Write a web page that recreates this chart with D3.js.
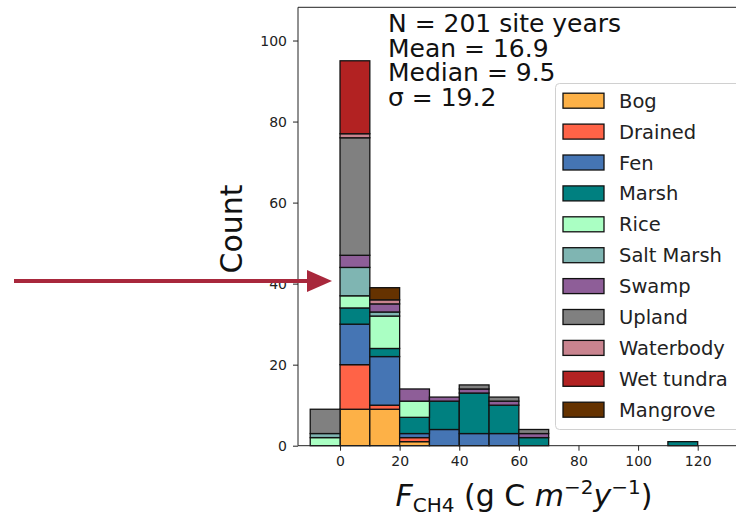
<!DOCTYPE html>
<html>
<head>
<meta charset="utf-8">
<script src="https://cdn.jsdelivr.net/npm/d3@7"></script>
<style>
  body { margin: 0; background: #fff; }
  svg { display: block; font-family: "DejaVu Sans", sans-serif; }
</style>
</head>
<body>
<div id="chart"></div>
<script>
// bin starts (width 10)
const binStarts = [-10, 0, 10, 20, 30, 40, 50, 60, 70, 80, 90, 100, 110];

const categories = ["Bog", "Drained", "Fen", "Marsh", "Rice", "Salt Marsh",
  "Swamp", "Upland", "Waterbody", "Wet tundra", "Mangrove"];

// counts per bin
const bog       = [0, 9, 9, 1, 0, 0, 0, 0, 0, 0, 0, 0, 0];
const drained   = [0, 11, 1, 1, 0, 0, 0, 0, 0, 0, 0, 0, 0];
const fen       = [0, 10, 12, 1, 4, 3, 3, 0, 0, 0, 0, 0, 0];
const marsh     = [0, 4, 2, 4, 7, 10, 7, 2, 0, 0, 0, 0, 1];
const rice      = [2, 3, 8, 4, 0, 0, 0, 0, 0, 0, 0, 0, 0];
const saltMarsh = [1, 7, 1, 0, 0, 0, 0, 0, 0, 0, 0, 0, 0];
const swamp     = [0, 3, 2, 3, 1, 1, 1, 1, 0, 0, 0, 0, 0];
const upland    = [6, 29, 0, 0, 0, 1, 1, 1, 0, 0, 0, 0, 0];
const waterbody = [0, 1, 1, 0, 0, 0, 0, 0, 0, 0, 0, 0, 0];
const wetTundra = [0, 18, 0, 0, 0, 0, 0, 0, 0, 0, 0, 0, 0];
const mangrove  = [0, 0, 3, 0, 0, 0, 0, 0, 0, 0, 0, 0, 0];

const xTicks = [0, 20, 40, 60, 80, 100, 120];
const yTicks = [0, 20, 40, 60, 80, 100];
const statLines = ["N = 201 site years", "Mean = 16.9", "Median = 9.5", "σ = 19.2"];

const colors = ["#fdb147", "#ff6347", "#4575b4", "#008080", "#aaffc3", "#7fb5b2",
  "#8e5e98", "#808080", "#c9848f", "#b22222", "#653200"];

const series = [bog, drained, fen, marsh, rice, saltMarsh, swamp, upland, waterbody, wetTundra, mangrove];
const table = binStarts.map((b, i) => {
  const row = { bin: b };
  categories.forEach((c, k) => row[c] = series[k][i]);
  return row;
});

const width = 736, height = 522;
const marginLeft = 298, marginTop = 7.3, marginBottom = 76.3;

const x = d3.scaleLinear().domain([-14.1, 140.9]).range([marginLeft, 760]);
const y = d3.scaleLinear().domain([0, 108.2]).range([height - marginBottom, marginTop]);
const color = d3.scaleOrdinal().domain(categories).range(colors);

const svg = d3.select("#chart").append("svg")
    .attr("width", width).attr("height", height)
    .attr("viewBox", [0, 0, width, height]);

svg.append("rect").attr("width", width).attr("height", height).attr("fill", "#fff");

// stacked bars
const stacked = d3.stack().keys(categories)(table);
svg.append("g")
    .attr("stroke", "#111")
    .attr("stroke-width", 1.3)
  .selectAll("g")
  .data(stacked)
  .join("g")
    .attr("fill", d => color(d.key))
  .selectAll("rect")
  .data(d => d.filter(s => s[1] > s[0]))
  .join("rect")
    .attr("x", d => x(d.data.bin))
    .attr("width", d => x(d.data.bin + 10) - x(d.data.bin))
    .attr("y", d => y(d[1]))
    .attr("height", d => y(d[0]) - y(d[1]));

// frame (left, top, bottom)
svg.append("path")
    .attr("d", `M${width + 10},${y(0)}H${marginLeft}V${marginTop}H${width + 10}`)
    .attr("fill", "none").attr("stroke", "#222").attr("stroke-width", 1);

// axes
const gx = svg.append("g")
    .attr("transform", `translate(0,${y(0)})`)
    .call(d3.axisBottom(x).tickValues(xTicks).tickSize(5).tickPadding(5))
    .call(g => g.select(".domain").remove());
gx.selectAll("text").attr("font-size", 14).attr("font-family", "DejaVu Sans").attr("fill", "#222");
gx.selectAll("line").attr("stroke", "#222");

const gy = svg.append("g")
    .attr("transform", `translate(${marginLeft},0)`)
    .call(d3.axisLeft(y).tickValues(yTicks).tickSize(5).tickPadding(6))
    .call(g => g.select(".domain").remove());
gy.selectAll("text").attr("font-size", 14).attr("font-family", "DejaVu Sans").attr("fill", "#222");
gy.selectAll("line").attr("stroke", "#222");

// axis labels
svg.append("text")
    .attr("transform", `translate(242,229) rotate(-90)`)
    .attr("text-anchor", "middle")
    .attr("font-size", 30)
    .attr("fill", "#111")
    .text("Count");

const xl = svg.append("text")
    .attr("x", 524).attr("y", 506)
    .attr("text-anchor", "middle")
    .attr("font-size", 30)
    .attr("fill", "#111");
xl.append("tspan").attr("font-style", "italic").text("F");
xl.append("tspan").attr("font-size", 20).attr("dy", 6).text("CH4");
xl.append("tspan").attr("dy", -6).text(" (g C ");
xl.append("tspan").attr("font-style", "italic").text("m");
xl.append("tspan").attr("font-size", 20).attr("dy", -12).text("−2");
xl.append("tspan").attr("font-style", "italic").attr("dy", 12).text("y");
xl.append("tspan").attr("font-size", 20).attr("dy", -12).text("−1");
xl.append("tspan").attr("dy", 12).text(")");

// stats block
svg.append("g")
  .selectAll("text")
  .data(statLines)
  .join("text")
    .attr("x", 388)
    .attr("y", (d, i) => 32 + i * 24.6)
    .attr("font-size", 25)
    .attr("fill", "#111")
    .text(d => d);

// legend
const legend = svg.append("g");
legend.append("rect")
    .attr("x", 555.5).attr("y", 83.5)
    .attr("width", 220).attr("height", 346)
    .attr("rx", 4)
    .attr("fill", "#fff").attr("fill-opacity", 0.85)
    .attr("stroke", "#d0d0d0");
const rows = legend.selectAll("g.row")
  .data(categories)
  .join("g")
    .attr("class", "row")
    .attr("transform", (d, i) => `translate(0,${100.7 + i * 30.9})`);
rows.append("rect")
    .attr("x", 563).attr("y", -7.5)
    .attr("width", 41).attr("height", 15)
    .attr("fill", d => color(d))
    .attr("stroke", "#111").attr("stroke-width", 1.3);
rows.append("text")
    .attr("x", 619).attr("dy", "0.36em")
    .attr("font-size", 19.5)
    .attr("fill", "#222")
    .text(d => d);

// annotation arrow
const arrowColor = "#a8283c";
svg.append("line")
    .attr("x1", 14).attr("y1", 281)
    .attr("x2", 312).attr("y2", 281)
    .attr("stroke", arrowColor).attr("stroke-width", 4);
svg.append("path")
    .attr("d", "M332,281L307,270L307,292Z")
    .attr("fill", arrowColor);
</script>
</body>
</html>
